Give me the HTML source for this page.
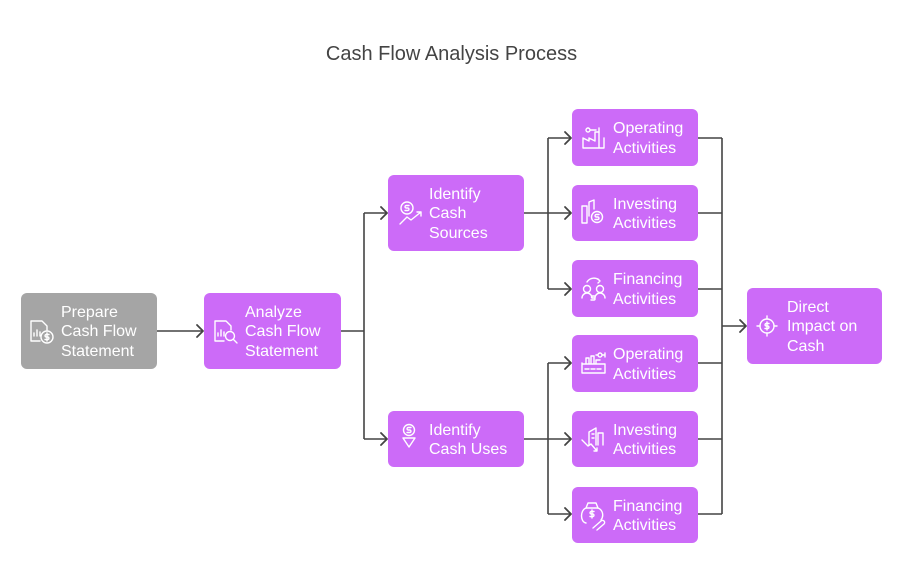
<!DOCTYPE html>
<html>
<head>
<meta charset="utf-8">
<style>
  html,body{margin:0;padding:0;background:#fff;}
  body{width:903px;height:584px;position:relative;overflow:hidden;font-family:"Liberation Sans",Arial,sans-serif;}
  .title{position:absolute;left:0;width:903px;top:43px;text-align:center;font-size:20px;color:#444;}
  .box{position:absolute;border-radius:6px;background:#CC6BF8;}
  .gray{background:#A5A5A5;}
  .txt{position:absolute;color:#fff;font-size:16px;line-height:19.5px;white-space:nowrap;display:flex;flex-direction:column;justify-content:center;padding-top:2px;box-sizing:border-box;}
  svg{position:absolute;left:0;top:0;}
</style>
</head>
<body>
<div class="title">Cash Flow Analysis Process</div>

<!-- boxes -->
<div class="box gray" style="left:21px;top:293px;width:136px;height:76px;"></div>
<div class="box" style="left:204px;top:293px;width:137px;height:76px;"></div>
<div class="box" style="left:388px;top:175px;width:136px;height:76px;"></div>
<div class="box" style="left:388px;top:411px;width:136px;height:56px;"></div>
<div class="box" style="left:572px;top:109px;width:126px;height:57px;"></div>
<div class="box" style="left:572px;top:185px;width:126px;height:56px;"></div>
<div class="box" style="left:572px;top:260px;width:126px;height:57px;"></div>
<div class="box" style="left:572px;top:335px;width:126px;height:57px;"></div>
<div class="box" style="left:572px;top:411px;width:126px;height:56px;"></div>
<div class="box" style="left:572px;top:487px;width:126px;height:56px;"></div>
<div class="box" style="left:747px;top:288px;width:135px;height:76px;"></div>

<!-- texts -->
<div class="txt" style="left:61px;top:293px;height:76px;"><span>Prepare</span><span>Cash Flow</span><span>Statement</span></div>
<div class="txt" style="left:245px;top:293px;height:76px;"><span>Analyze</span><span>Cash Flow</span><span>Statement</span></div>
<div class="txt" style="left:429px;top:175px;height:76px;"><span>Identify</span><span>Cash</span><span>Sources</span></div>
<div class="txt" style="left:429px;top:411px;height:56px;"><span>Identify</span><span>Cash Uses</span></div>
<div class="txt" style="left:613px;top:109px;height:57px;"><span>Operating</span><span>Activities</span></div>
<div class="txt" style="left:613px;top:185px;height:56px;"><span>Investing</span><span>Activities</span></div>
<div class="txt" style="left:613px;top:260px;height:57px;"><span>Financing</span><span>Activities</span></div>
<div class="txt" style="left:613px;top:335px;height:57px;"><span>Operating</span><span>Activities</span></div>
<div class="txt" style="left:613px;top:411px;height:56px;"><span>Investing</span><span>Activities</span></div>
<div class="txt" style="left:613px;top:487px;height:56px;"><span>Financing</span><span>Activities</span></div>
<div class="txt" style="left:787px;top:288px;height:76px;"><span>Direct</span><span>Impact on</span><span>Cash</span></div>

<svg width="903" height="584" viewBox="0 0 903 584">
  <g fill="none" stroke="#444" stroke-width="1.6">
    <path d="M157 331 H203"/>
    <path d="M341 331 H364 M364 213 V439 M364 213 H387 M364 439 H387"/>
    <path d="M524 213 H548 M548 138 V289 M548 138 H571 M548 213 H571 M548 289 H571"/>
    <path d="M524 439 H548 M548 363 V514 M548 363 H571 M548 439 H571 M548 514 H571"/>
    <path d="M698 138 H722 M698 213 H722 M698 289 H722 M698 363 H722 M698 439 H722 M698 514 H722 M722 138 V514 M722 326 H746"/>
  </g>
  <g fill="none" stroke="#444" stroke-width="1.8" stroke-linecap="round" stroke-linejoin="round">
    <path d="M197 325 L203 331 L197 337"/>
    <path d="M381 207 L387 213 L381 219"/>
    <path d="M381 433 L387 439 L381 445"/>
    <path d="M565 132 L571 138 L565 144"/>
    <path d="M565 207 L571 213 L565 219"/>
    <path d="M565 283 L571 289 L565 295"/>
    <path d="M565 357 L571 363 L565 369"/>
    <path d="M565 433 L571 439 L565 445"/>
    <path d="M565 508 L571 514 L565 520"/>
    <path d="M740 320 L746 326 L740 332"/>
  </g>

  <!-- icons -->
  <g fill="none" stroke="#fff" stroke-width="1.4" stroke-linecap="round" stroke-linejoin="round">
    <path d="M40 341 H31 V321 H42 L47 326 V330"/>
    <path d="M34 336 V333 M37 336 V330 M40 336 V332"/>
    <circle cx="47" cy="337" r="6"/>
    <path d="M49 334.5 H46 A1.3 1.3 0 0 0 46 337 H48 A1.3 1.3 0 0 1 48 339.5 H45 M47 333 V341"/>
    <path d="M224 341 H215 V321 H226 L231 326 V330"/>
    <path d="M218 336 V333 M221 336 V330 M224 336 V332"/>
    <circle cx="230" cy="336" r="4.5"/>
    <path d="M233.5 339.5 L237 343"/>
    <circle cx="407" cy="208" r="6"/>
    <path d="M409 205.5 H406 A1.3 1.3 0 0 0 406 208 H408 A1.3 1.3 0 0 1 408 210.5 H405"/>
    <path d="M400 224 L407 217 L411 220 L421 212 M417 212 H421 V216"/>
    <circle cx="409" cy="430" r="5.5"/>
    <path d="M411 427.5 H408 A1.3 1.3 0 0 0 408 430 H410 A1.3 1.3 0 0 1 410 432.5 H407"/>
    <path d="M403 438 L409 447 L415 438 Z"/>
    <path d="M583 148 V138 L589 141 V138 L595 141 V132 H599 V148 Z M583 148 H604 V138"/>
    <path d="M586 130 A2 2 0 1 1 590 130 A2 2 0 1 1 586 130 M590 130 H596 M599 128 V132"/>
    <path d="M582 223 V206 H587 V223 Z M589 216 V202 L594 200 V209"/>
    <circle cx="597" cy="217" r="5.5"/>
    <path d="M599 214.5 H596 A1.3 1.3 0 0 0 596 217 H598 A1.3 1.3 0 0 1 598 219.5 H595"/>
    <circle cx="587" cy="289" r="3.5"/><circle cx="600" cy="289" r="3.5"/>
    <path d="M582 298 A5 5 0 0 1 592 298 M595 298 A5 5 0 0 1 605 298"/>
    <path d="M587 282 A8 8 0 0 1 600 281 M598 279 L600 281 L598 283"/>
    <path d="M595 296 H592.5 A1 1 0 0 0 592.5 298 H594 A1 1 0 0 1 594 300 H591"/>
    <path d="M582 373 V363 M582 373 H605 V364 H582 M586 364 V358 H589 V364 M591 364 V356 H594 V364 M596 364 V360 H600"/>
    <path d="M585 369 H589 M591 369 H595 M597 369 H601"/>
    <circle cx="600" cy="355" r="2"/><path d="M602 355 H605 M605 353 V357 M596 355 H598"/>
    <path d="M589 445 V432 L596 428 V445 M592 434 H594 M592 438 H594 M598 445 V433 H603 V445"/>
    <path d="M582 440 L588 446 L591 444 L597 451 M594 451 H597 V448"/>
    <path d="M586 523 C580 522 580 510 586 508 H598 C603 510 604 516 601 520"/>
    <path d="M586 508 L588 503 H596 L598 508"/>
    <path d="M594 511.5 H591 A1.3 1.3 0 0 0 591 514 H593 A1.3 1.3 0 0 1 593 516.5 H590 M592 510 V518"/>
    <path d="M593 528 L601 521 A2 2 0 0 1 604 524 L597 530"/>
    <circle cx="767" cy="326" r="7"/>
    <path d="M767 316 V319 M767 333 V336 M757 326 H760 M774 326 H777"/>
    <path d="M769 323.5 H766 A1.3 1.3 0 0 0 766 326 H768 A1.3 1.3 0 0 1 768 328.5 H765 M767 322 V330"/>
  </g>
</svg>
</body>
</html>
